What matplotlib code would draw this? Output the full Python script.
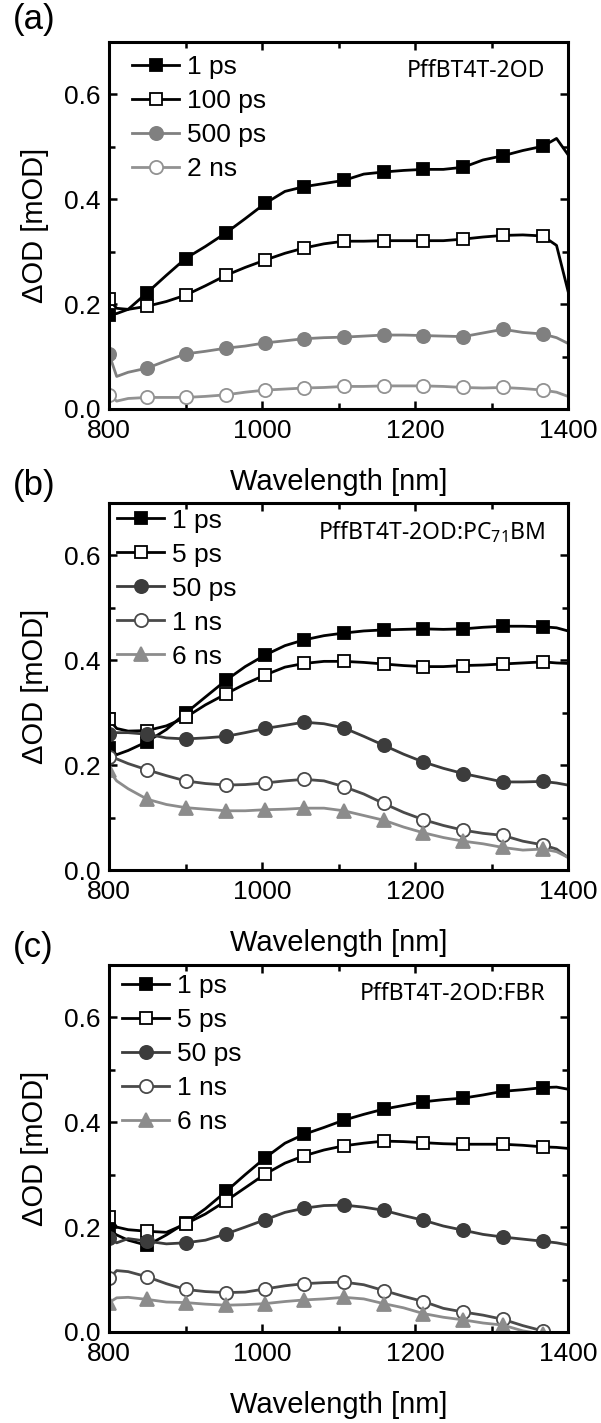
import matplotlib
matplotlib.use('Agg')
import matplotlib.pyplot as plt
from matplotlib.ticker import MultipleLocator, FormatStrFormatter

plt.rcParams['font.family'] = ['Liberation Sans', 'DejaVu Sans']

# wavelength grid of the traces [nm]
wl = [800, 810, 825, 850, 875, 900, 926, 953, 978, 1004, 1030, 1055, 1081,
      1107, 1133, 1159, 1185, 1211, 1237, 1263, 1289, 1315, 1341, 1367, 1385, 1400]
# points of the grid that carry a symbol
marker_idx = [0, 3, 5, 7, 9, 11, 13, 15, 17, 19, 21, 23]

# (a) PffBT4T-2OD
a_labels = ['1 ps', '100 ps', '500 ps', '2 ns']
a_1ps = [0.180, 0.182, 0.190, 0.222, 0.255, 0.287, 0.310, 0.336, 0.363, 0.392, 0.415, 0.424, 0.430,
         0.436, 0.448, 0.452, 0.455, 0.457, 0.457, 0.461, 0.475, 0.483, 0.493, 0.501, 0.516, 0.485]
a_100ps = [0.209, 0.192, 0.190, 0.196, 0.205, 0.217, 0.235, 0.255, 0.270, 0.284, 0.297, 0.307, 0.315,
           0.320, 0.320, 0.321, 0.321, 0.321, 0.321, 0.324, 0.328, 0.331, 0.332, 0.330, 0.312, 0.225]
a_500ps = [0.105, 0.062, 0.070, 0.078, 0.092, 0.105, 0.110, 0.116, 0.120, 0.126, 0.130, 0.134, 0.136,
           0.137, 0.139, 0.141, 0.141, 0.140, 0.139, 0.138, 0.145, 0.152, 0.146, 0.143, 0.136, 0.125]
a_2ns = [0.027, 0.015, 0.020, 0.022, 0.022, 0.022, 0.024, 0.027, 0.032, 0.036, 0.038, 0.040, 0.041,
         0.043, 0.043, 0.044, 0.044, 0.044, 0.043, 0.041, 0.040, 0.041, 0.039, 0.036, 0.032, 0.024]

# (b) PffBT4T-2OD:PC71BM
b_labels = ['1 ps', '5 ps', '50 ps', '1 ns', '6 ns']
b_1ps = [0.232, 0.220, 0.228, 0.245, 0.268, 0.299, 0.330, 0.362, 0.388, 0.410, 0.428, 0.439, 0.447,
         0.452, 0.456, 0.458, 0.459, 0.460, 0.459, 0.460, 0.463, 0.465, 0.465, 0.464, 0.462, 0.456]
b_5ps = [0.288, 0.270, 0.265, 0.266, 0.275, 0.291, 0.315, 0.336, 0.355, 0.372, 0.387, 0.394, 0.398,
         0.398, 0.396, 0.393, 0.390, 0.388, 0.388, 0.390, 0.391, 0.393, 0.395, 0.397, 0.395, 0.394]
b_50ps = [0.260, 0.262, 0.262, 0.259, 0.252, 0.250, 0.252, 0.255, 0.262, 0.270, 0.276, 0.282, 0.279,
          0.271, 0.255, 0.238, 0.221, 0.206, 0.194, 0.184, 0.176, 0.168, 0.168, 0.169, 0.166, 0.162]
b_1ns = [0.215, 0.212, 0.203, 0.191, 0.180, 0.170, 0.165, 0.162, 0.163, 0.166, 0.170, 0.173, 0.170,
         0.159, 0.145, 0.127, 0.110, 0.096, 0.085, 0.076, 0.070, 0.066, 0.055, 0.048, 0.040, 0.024]
b_6ns = [0.190, 0.170, 0.155, 0.135, 0.125, 0.119, 0.116, 0.113, 0.113, 0.115, 0.116, 0.118, 0.118,
         0.113, 0.104, 0.095, 0.082, 0.071, 0.062, 0.055, 0.050, 0.043, 0.038, 0.040, 0.035, 0.024]

# (c) PffBT4T-2OD:FBR
c_labels = ['1 ps', '5 ps', '50 ps', '1 ns', '6 ns']
c_1ps = [0.195, 0.185, 0.175, 0.165, 0.185, 0.208, 0.235, 0.268, 0.300, 0.332, 0.360, 0.377, 0.390,
         0.404, 0.415, 0.425, 0.432, 0.439, 0.443, 0.446, 0.452, 0.459, 0.462, 0.466, 0.467, 0.463]
c_5ps = [0.220, 0.200, 0.195, 0.192, 0.190, 0.206, 0.225, 0.250, 0.275, 0.301, 0.322, 0.336, 0.347,
         0.355, 0.360, 0.364, 0.363, 0.361, 0.359, 0.358, 0.358, 0.358, 0.356, 0.353, 0.352, 0.350]
c_50ps = [0.179, 0.170, 0.178, 0.173, 0.168, 0.170, 0.175, 0.187, 0.200, 0.214, 0.228, 0.236, 0.241,
          0.242, 0.238, 0.232, 0.222, 0.213, 0.202, 0.194, 0.186, 0.181, 0.177, 0.173, 0.170, 0.166]
c_1ns = [0.102, 0.117, 0.115, 0.105, 0.092, 0.081, 0.077, 0.075, 0.076, 0.082, 0.088, 0.092, 0.094,
         0.095, 0.090, 0.079, 0.068, 0.058, 0.045, 0.038, 0.032, 0.024, 0.012, 0.002, -0.005, -0.010]
c_6ns = [0.056, 0.065, 0.066, 0.062, 0.057, 0.056, 0.053, 0.051, 0.052, 0.054, 0.058, 0.061, 0.063,
         0.066, 0.063, 0.054, 0.046, 0.035, 0.028, 0.023, 0.017, 0.013, 0.002, -0.004, -0.010, -0.015]

# styles: (line color, marker, marker face)
a_styles = [('black', 's', 'black'), ('black', 's', 'white'),
            ('#808080', 'o', '#808080'), ('#929292', 'o', 'white')]
bc_styles = [('black', 's', 'black'), ('black', 's', 'white'), ('#3c3c3c', 'o', '#3c3c3c'),
             ('#4a4a4a', 'o', 'white'), ('#8c8c8c', '^', '#8c8c8c')]


def panel(ax, series, labels, styles, title, leg_xy):
    for y, lab, (c, m, fc) in zip(series, labels, styles):
        ax.plot(wl, y, color=c, lw=2.0, marker=m, markevery=marker_idx,
                ms=9.5 if m != 's' else 8.5, mfc=fc, mec=c,
                mew=1.3, label=lab)
    ax.set_xlim(800, 1400)
    ax.set_ylim(0, 0.7)
    ax.xaxis.set_major_locator(MultipleLocator(200))
    ax.xaxis.set_minor_locator(MultipleLocator(100))
    ax.yaxis.set_major_locator(MultipleLocator(0.2))
    ax.yaxis.set_minor_locator(MultipleLocator(0.1))
    ax.yaxis.set_major_formatter(FormatStrFormatter('%.1f'))
    ax.tick_params(which='both', direction='in', top=True, right=True, width=1.8, labelsize=19)
    ax.tick_params(which='major', length=6)
    ax.tick_params(which='minor', length=4)
    ax.tick_params(axis='x', pad=7)
    ax.tick_params(axis='y', pad=6)
    for s in ax.spines.values():
        s.set_linewidth(2.2)
    ax.set_xlabel('Wavelength [nm]', fontsize=21, labelpad=18)
    ax.set_ylabel('ΔOD [mOD]', fontsize=21, labelpad=11)
    ax.text(1370, 0.645, title, ha='right', va='center', fontsize=16.5,
            family=['Noto Sans', 'DejaVu Sans'])
    ax.legend(loc='upper left', bbox_to_anchor=leg_xy, frameon=False, fontsize=19,
              borderaxespad=0, borderpad=0, handlelength=1.8, handletextpad=0.3,
              labelspacing=0.38)


fig = plt.figure(figsize=(6.01, 14.23), dpi=100)
ax_a = fig.add_axes([0.1814, 0.7126, 0.7637, 0.2579])
ax_b = fig.add_axes([0.1814, 0.3886, 0.7637, 0.2579])
ax_c = fig.add_axes([0.1814, 0.0640, 0.7637, 0.2579])

panel(ax_a, [a_1ps, a_100ps, a_500ps, a_2ns], a_labels, a_styles, 'PffBT4T-2OD', (0.05, 0.965))
panel(ax_b, [b_1ps, b_5ps, b_50ps, b_1ns, b_6ns], b_labels, bc_styles,
      r'PffBT4T-2OD:PC$_{\mathregular{71}}$BM', (0.017, 0.985))
panel(ax_c, [c_1ps, c_5ps, c_50ps, c_1ns, c_6ns], c_labels, bc_styles,
      'PffBT4T-2OD:FBR', (0.028, 0.975))

fig.text(13 / 601, 1 - 20 / 1423, '(a)', fontsize=25, va='center', ha='left')
fig.text(13 / 601, 1 - 485 / 1423, '(b)', fontsize=25, va='center', ha='left')
fig.text(13 / 601, 1 - 948 / 1423, '(c)', fontsize=25, va='center', ha='left')

fig.savefig('out.png', dpi=100)
